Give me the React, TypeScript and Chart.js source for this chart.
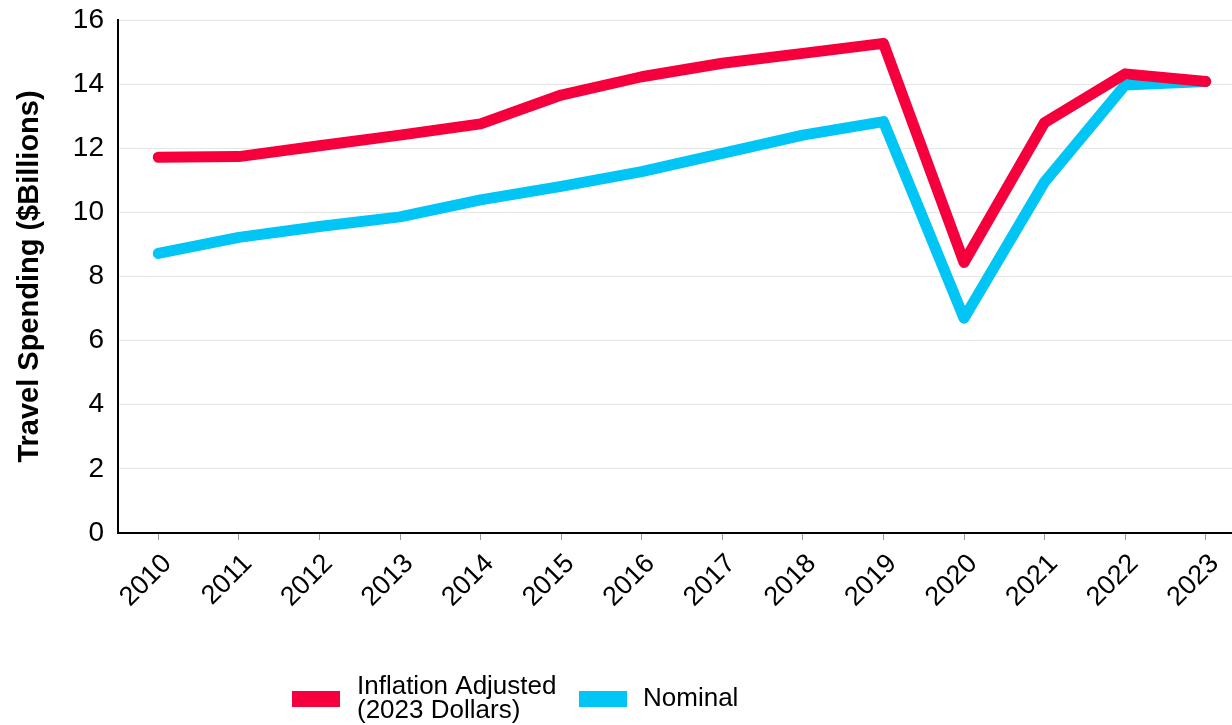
import React, { useEffect, useRef } from "react";
import { Chart, registerables } from "chart.js";

Chart.register(...registerables);

const years = ["2010","2011","2012","2013","2014","2015","2016","2017","2018","2019","2020","2021","2022","2023"];
const inflationAdjusted = [11.72, 11.74, 12.08, 12.41, 12.76, 13.66, 14.23, 14.65, 14.96, 15.27, 8.44, 12.80, 14.32, 14.08];
const nominal = [8.72, 9.22, 9.56, 9.86, 10.39, 10.81, 11.27, 11.84, 12.41, 12.83, 6.70, 10.95, 13.97, 14.08];
const seriesLabels = [["Inflation Adjusted", "(2023 Dollars)"], ["Nominal"]];
const yTicks = [0, 2, 4, 6, 8, 10, 12, 14, 16];

const RED = "#F5003C";
const BLUE = "#00C5F5";
const FONT = "'Liberation Sans', Arial, sans-serif";

const legendPlugin = {
  id: "customLegend",
  afterDraw(chart: any, _args: any, opts: any) {
    const ctx = chart.ctx;
    const ds = chart.data.datasets;
    ctx.save();
    ctx.font = `${opts.fontSize}px ${FONT}`;
    ctx.textBaseline = "middle";
    ctx.textAlign = "left";
    ds.forEach((d: any, i: number) => {
      const it = opts.items[i];
      ctx.fillStyle = d.borderColor;
      ctx.fillRect(it.boxX, opts.centerY - opts.boxH / 2, opts.boxW, opts.boxH);
      ctx.fillStyle = "#000";
      const lines: string[] = seriesLabels[i];
      const n = lines.length;
      lines.forEach((ln, k) => {
        const y = opts.centerY + (k - (n - 1) / 2) * opts.lineH;
        ctx.fillText(ln, it.textX, y);
      });
    });
    ctx.restore();
  },
};

export default function App() {
  const ref = useRef<HTMLCanvasElement | null>(null);
  useEffect(() => {
    document.body.style.margin = "0";
    document.body.style.overflow = "hidden";
    const chart = new Chart(ref.current!, {
      type: "line",
      data: {
        labels: years,
        datasets: [
          {
            label: seriesLabels[0].join(" "),
            data: inflationAdjusted,
            borderColor: RED,
            backgroundColor: RED,
            borderWidth: 11,
            pointRadius: 0,
            tension: 0,
            borderJoinStyle: "round",
            borderCapStyle: "round",
          },
          {
            label: seriesLabels[1].join(" "),
            data: nominal,
            borderColor: BLUE,
            backgroundColor: BLUE,
            borderWidth: 11,
            pointRadius: 0,
            tension: 0,
            borderJoinStyle: "round",
            borderCapStyle: "round",
          },
        ],
      },
      options: {
        animation: false,
        responsive: true,
        maintainAspectRatio: false,
        layout: { padding: { top: 20, left: 0, right: 0, bottom: 0 } },
        plugins: {
          legend: { display: false },
          tooltip: { enabled: false },
          customLegend: {
            fontSize: 26,
            lineH: 24,
            centerY: 699,
            boxW: 48,
            boxH: 16,
            items: [
              { boxX: 292, textX: 357 },
              { boxX: 579, textX: 643 },
            ],
          },
        } as any,
        scales: {
          x: {
            offset: true,
            grid: {
              display: true,
              drawOnChartArea: false,
              drawTicks: true,
              tickLength: 7,
              color: "#999999",
            },
            border: { display: true, color: "#000", width: 2 },
            ticks: {
              color: "#000",
              font: { family: FONT, size: 27 },
              maxRotation: 45,
              minRotation: 45,
              padding: 8,
              labelOffset: 9,
              autoSkip: false,
            },
            afterFit: (scale: any) => {
              scale.height = 192;
            },
          },
          y: {
            min: 0,
            max: 16,
            afterBuildTicks: (scale: any) => {
              scale.ticks = yTicks.map((v) => ({ value: v }));
            },
            grid: { color: "#e6e6e6", lineWidth: 1, drawTicks: false },
            border: { display: true, color: "#000", width: 2 },
            ticks: {
              color: "#000",
              font: { family: FONT, size: 28 },
              padding: 14,
            },
            title: {
              display: true,
              text: "Travel Spending ($Billions)",
              color: "#000",
              font: { family: FONT, size: 29, weight: "bold" },
              padding: { top: 13, bottom: 0 },
            },
            afterFit: (scale: any) => {
              scale.width = 118;
              scale.paddingTop = 0;
            },
          },
        },
      },
      plugins: [legendPlugin],
    });
    return () => chart.destroy();
  }, []);
  return (
    <div style={{ width: 1246, height: 725, position: "relative" }}>
      <canvas ref={ref} />
    </div>
  );
}
